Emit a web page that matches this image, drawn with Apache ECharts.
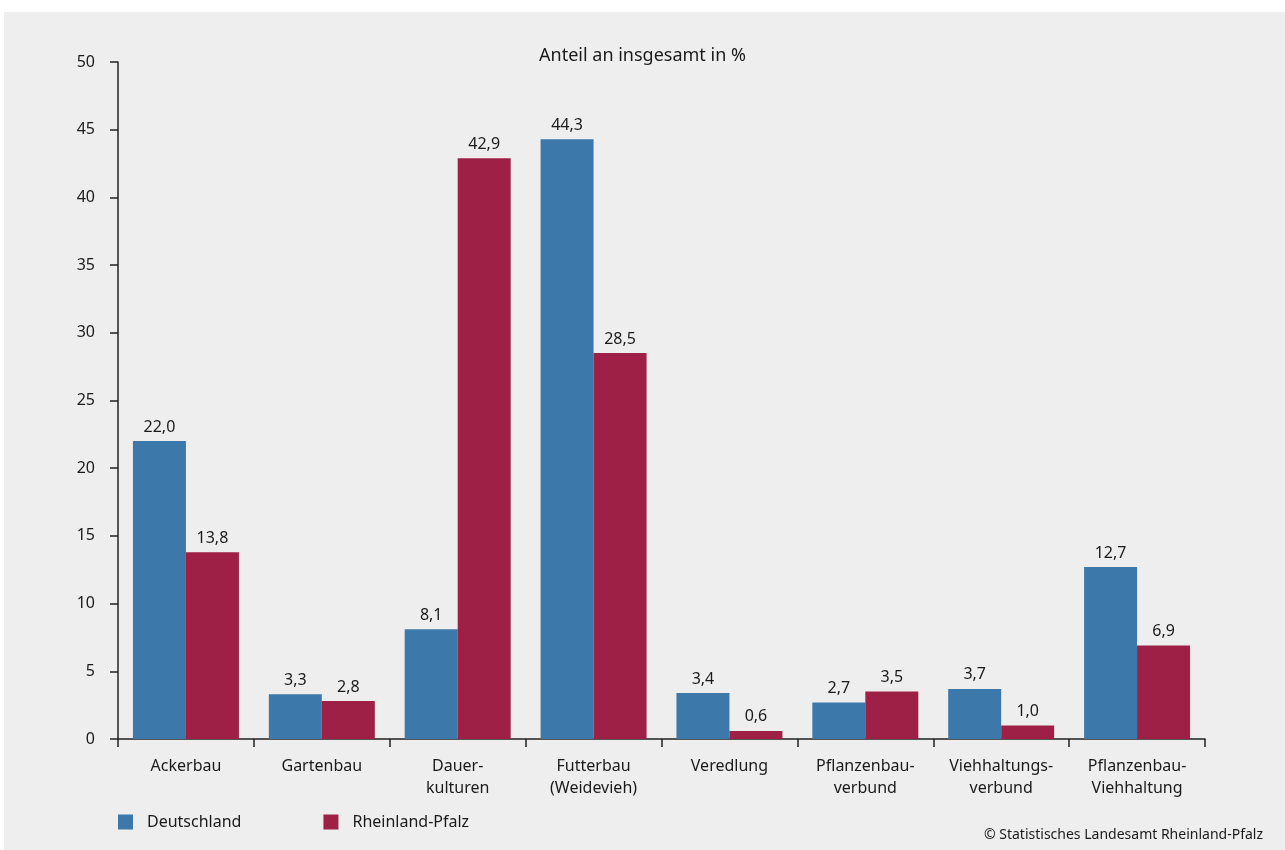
<!DOCTYPE html>
<html><head><meta charset="utf-8">
<script src="https://cdn.jsdelivr.net/npm/echarts@6/dist/echarts.min.js"></script>
<style>
html,body{margin:0;padding:0;background:#fff;}
#bg{position:absolute;left:4px;top:12px;right:0;bottom:0;background:#eeeeee;}
#chart{position:absolute;left:0;top:0;width:1285px;height:850px;}
</style></head>
<body><div id="bg"></div><div id="chart"></div>
<script>
const categories = ['Ackerbau','Gartenbau','Dauer-\nkulturen','Futterbau\n(Weidevieh)','Veredlung','Pflanzenbau-\nverbund','Viehhaltungs-\nverbund','Pflanzenbau-\nViehhaltung'];
const deutschland = [22.0, 3.3, 8.1, 44.3, 3.4, 2.7, 3.7, 12.7];
const rheinlandPfalz = [13.8, 2.8, 42.9, 28.5, 0.6, 3.5, 1.0, 6.9];
const yTicks = {min: 0, max: 50, interval: 5};

const FONT = 'Noto Sans';
const fmt = v => v.toFixed(1).replace('.', ',');
const chart = echarts.init(document.getElementById('chart'), null, {renderer:'canvas'});
const labelCfg = {show:true, position:'top', distance:6, color:'#1a1a1a', fontSize:16, fontFamily:FONT, formatter: p => fmt(p.value)};
chart.setOption({
  backgroundColor:'transparent',
  animation:false,
  textStyle:{fontFamily:FONT},
  title:{text:'Anteil an insgesamt in %', left:'center', top:42, textStyle:{fontSize:18, fontWeight:'normal', color:'#1a1a1a', fontFamily:FONT}},
  grid:{left:118, right:80, top:62, bottom:111, containLabel:false},
  legend:{left:118, top:814, padding:0, itemWidth:15, itemHeight:15, itemGap:82, icon:'rect',
    textStyle:{fontSize:16, color:'#1a1a1a', fontFamily:FONT, padding:[0,0,0,9]},
    data:['Deutschland','Rheinland-Pfalz']},
  xAxis:{type:'category', data:categories,
    axisLine:{lineStyle:{color:'#222', width:1.5}},
    axisTick:{show:true, length:8, alignWithLabel:false, lineStyle:{color:'#222', width:1.5}},
    axisLabel:{margin:16, fontSize:16, color:'#1a1a1a', lineHeight:22, fontFamily:FONT, interval:0}},
  yAxis:{type:'value', min:yTicks.min, max:yTicks.max, interval:yTicks.interval,
    splitLine:{show:false},
    axisLine:{show:true, lineStyle:{color:'#222', width:1.5}},
    axisTick:{show:true, length:8, lineStyle:{color:'#222', width:1.5}},
    axisLabel:{margin:23, fontSize:16, color:'#1a1a1a', fontFamily:FONT}},
  series:[
    {name:'Deutschland', type:'bar', data:deutschland, barGap:'0%', barCategoryGap:'22%', itemStyle:{color:'#3c78aa'}, label:labelCfg},
    {name:'Rheinland-Pfalz', type:'bar', data:rheinlandPfalz, barGap:'0%', barCategoryGap:'22%', itemStyle:{color:'#9e2046'}, label:labelCfg}
  ],
  graphic:[{type:'text', right:22, bottom:8, style:{text:'© Statistisches Landesamt Rheinland-Pfalz', fontSize:14, fill:'#1a1a1a', fontFamily:FONT}}]
});
</script></body></html>
